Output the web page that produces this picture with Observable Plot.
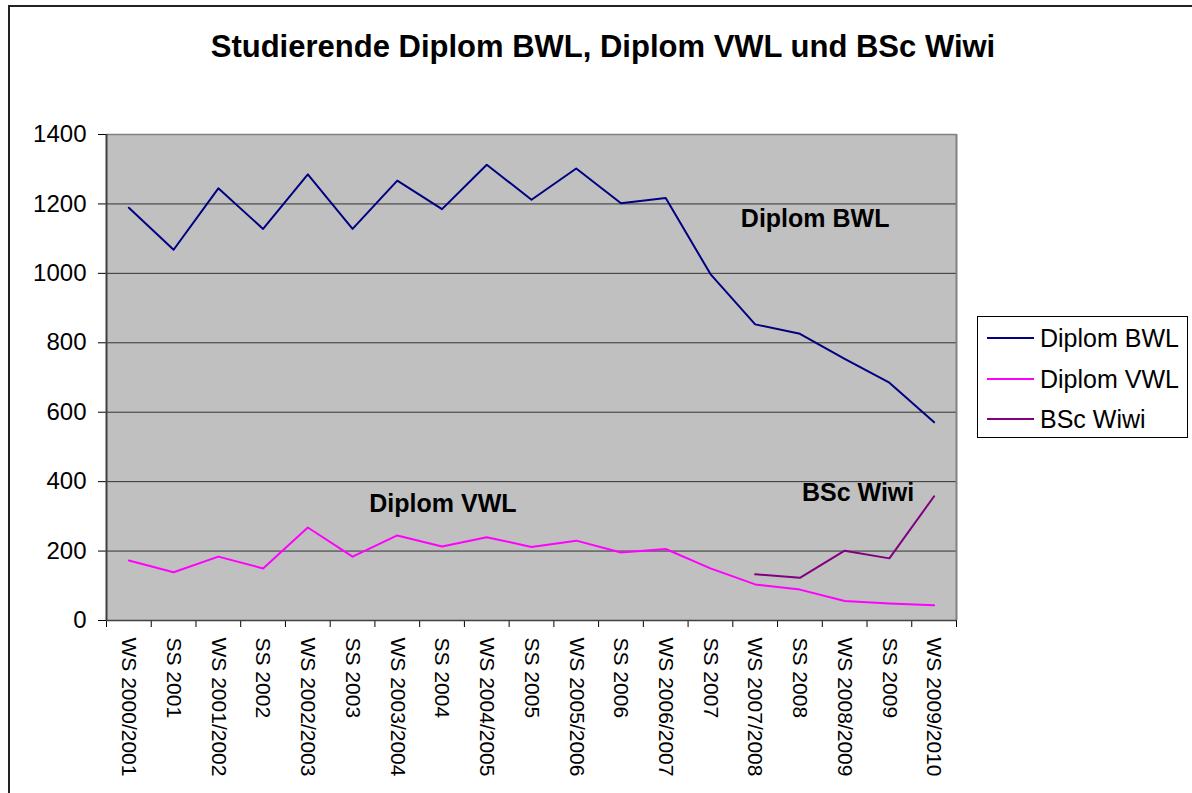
<!DOCTYPE html>
<html>
<head>
<meta charset="utf-8">
<script src="https://cdn.jsdelivr.net/npm/d3@7"></script>
<script src="https://cdn.jsdelivr.net/npm/@observablehq/plot@0.6"></script>
<style>
  body { margin: 0; background: #fff; font-family: "Liberation Sans", Arial, sans-serif; }
  #wrap { position: relative; width: 1192px; height: 793px; overflow: hidden; background: #fff; }
  #chart { position: absolute; left: 0; top: 0; }
  #border { position: absolute; left: 8px; top: 5px; width: 1200px; height: 800px; border: 2px solid #222; box-sizing: border-box; pointer-events: none; }
  #title { position: absolute; left: 0; width: 1206px; top: 31px; text-align: center; font-size: 31px; font-weight: bold; line-height: 31px; color: #000; white-space: nowrap; }
  #legend { position: absolute; left: 977px; top: 316px; width: 211px; height: 122px; border: 1px solid #000; box-sizing: border-box; background: #fff; padding-top: 1px; }
  .row { height: 40.5px; display: flex; align-items: center; }
  .sw { width: 47px; height: 2px; margin-left: 9px; margin-right: 6px; }
  .lab { font-size: 25px; line-height: 40px; color: #000; white-space: nowrap; }
</style>
</head>
<body>
<div id="wrap">
  <div id="chart"></div>
  <div id="border"></div>
  <div id="title">Studierende Diplom BWL, Diplom VWL und BSc Wiwi</div>
  <div id="legend"></div>
</div>
<script>
// ---- data ----
const categories = [
  "WS 2000/2001", "SS 2001", "WS 2001/2002", "SS 2002", "WS 2002/2003", "SS 2003",
  "WS 2003/2004", "SS 2004", "WS 2004/2005", "SS 2005", "WS 2005/2006", "SS 2006",
  "WS 2006/2007", "SS 2007", "WS 2007/2008", "SS 2008", "WS 2008/2009", "SS 2009",
  "WS 2009/2010"
];
const diplomBWL = [1189, 1068, 1245, 1128, 1285, 1128, 1267, 1185, 1313, 1212, 1302, 1202, 1217, 998, 853, 826, 754, 685, 571];
const diplomVWL = [173, 139, 184, 150, 268, 184, 245, 213, 240, 212, 230, 196, 206, 150, 104, 89, 56, 49, 44];
const bscWiwi = [null, null, null, null, null, null, null, null, null, null, null, null, null, null, 133, 123, 201, 179, 358];
const seriesNames = ["Diplom BWL", "Diplom VWL", "BSc Wiwi"];
const seriesColors = ["#000080", "#FF00FF", "#800080"];
const yTicks = [0, 200, 400, 600, 800, 1000, 1200, 1400];
// in-chart series labels (category index, value)
const annotations = [
  {label: "Diplom BWL", i: 15.34, v: 1157},
  {label: "Diplom VWL", i: 7.02, v: 337},
  {label: "BSc Wiwi", i: 16.3, v: 366}
];

// ---- build ----
const n = categories.length;
const rows = categories.map((c, i) => ({i, c, bwl: diplomBWL[i], vwl: diplomVWL[i], bsc: bscWiwi[i]}));
const bounds = d3.range(-0.5, n, 1);
const font = '"Liberation Sans", Arial, sans-serif';

const chart = Plot.plot({
  width: 1192,
  height: 793,
  marginLeft: 106,
  marginRight: 236,
  marginTop: 134,
  marginBottom: 173,
  style: {fontFamily: font, fontSize: "24px", color: "#000", background: "transparent", overflow: "visible"},
  x: {type: "linear", domain: [-0.5, n - 0.5], ticks: bounds, tickFormat: () => "", tickSize: 7, label: null},
  y: {domain: [0, 1400], ticks: yTicks, tickFormat: () => "", tickSize: 8, label: null},
  marks: [
    Plot.frame({fill: "#C0C0C0", stroke: null}),
    Plot.ruleY(yTicks, {stroke: "#333", strokeWidth: 1}),
    Plot.ruleY([1400], {stroke: "#808080", strokeWidth: 1.5}),
    Plot.ruleX([n - 0.5], {stroke: "#808080", strokeWidth: 2}),
    Plot.ruleX([-0.5], {stroke: "#404040", strokeWidth: 2}),
    Plot.ruleY([0], {stroke: "#404040", strokeWidth: 1.5}),
    Plot.line(rows, {x: "i", y: "bwl", stroke: seriesColors[0], strokeWidth: 2}),
    Plot.line(rows, {x: "i", y: "vwl", stroke: seriesColors[1], strokeWidth: 2}),
    Plot.line(rows, {x: "i", y: "bsc", stroke: seriesColors[2], strokeWidth: 2}),
    Plot.text(yTicks, {x: () => -0.5, y: d => d, text: d => String(d), textAnchor: "end", dx: -20, fontSize: 24, fill: "#000"}),
    Plot.text(rows, {x: "i", y: () => 0, text: "c", rotate: 90, textAnchor: "start", dy: 17, fontSize: 21, fill: "#000"}),
    Plot.text(annotations, {x: "i", y: "v", text: "label", fontSize: 25, fontWeight: "bold", fill: "#000"})
  ]
});
document.getElementById("chart").appendChild(chart);

// ---- legend ----
const legend = document.getElementById("legend");
seriesNames.forEach((name, k) => {
  const row = document.createElement("div");
  row.className = "row";
  const sw = document.createElement("div");
  sw.className = "sw";
  sw.style.background = seriesColors[k];
  const lab = document.createElement("div");
  lab.className = "lab";
  lab.textContent = name;
  row.appendChild(sw);
  row.appendChild(lab);
  legend.appendChild(row);
});
</script>
</body>
</html>
